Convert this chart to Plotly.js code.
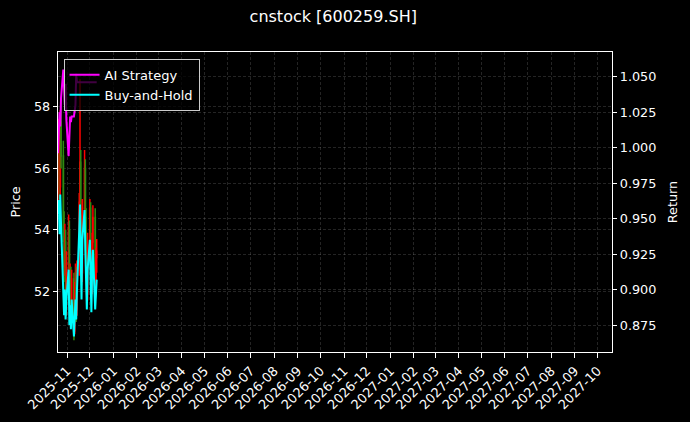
<!DOCTYPE html>
<html>
<head>
<meta charset="utf-8">
<script src="https://cdn.plot.ly/plotly-3.0.1.min.js"></script>
<style>
html, body { margin: 0; padding: 0; background: #000; }
#chart { width: 690px; height: 422px; }
</style>
</head>
<body>
<div id="chart"></div>
<script>
// daily bars
var dates = ['2025-10-20','2025-10-21','2025-10-22','2025-10-23','2025-10-24',
             '2025-10-27','2025-10-28','2025-10-29','2025-10-30','2025-10-31',
             '2025-11-03','2025-11-04','2025-11-05','2025-11-06','2025-11-07',
             '2025-11-10','2025-11-11','2025-11-12','2025-11-13','2025-11-14',
             '2025-11-17','2025-11-18','2025-11-19','2025-11-20','2025-11-21',
             '2025-11-24','2025-11-25','2025-11-26','2025-11-27','2025-11-28',
             '2025-12-01','2025-12-02','2025-12-03','2025-12-04','2025-12-05',
             '2025-12-08','2025-12-09','2025-12-10'];
var openP  = [55.2,56.3,57.0,55.4,57.5, 56.4,54.0,52.8,53.6,52.0, 52.9,54.0,51.8,52.5,51.2,
              52.4,50.7,51.9,52.6,51.4, 52.7,54.9,56.2,54.2,52.6, 54.7,56.0,54.4,53.0,51.9,
              53.5,54.7,53.0,52.1,53.6, 54.4,52.3,53.1];
var highP  = [56.8,57.6,57.4,57.9,58.3, 56.9,54.6,54.2,54.0,53.3, 54.5,54.3,52.9,52.8,52.7,
              52.6,52.3,52.9,52.8,53.0, 55.2,58.9,56.6,54.5,55.0, 56.6,56.3,54.7,53.4,53.9,
              55.0,54.9,53.3,53.9,54.8, 54.7,53.4,53.7];
var lowP   = [54.6,55.8,55.0,55.1,56.0, 53.6,52.3,52.5,51.6,51.2, 52.6,51.5,51.0,50.8,51.0,
              50.4,50.6,51.5,51.0,51.2, 52.5,54.6,53.8,52.2,52.3, 54.4,54.0,52.6,51.5,51.7,
              53.2,52.7,51.8,51.9,53.3, 52.0,52.1,52.6];
var closeP = [56.3,57.0,55.4,57.5,56.4, 54.0,52.8,53.6,52.0,52.9, 54.0,51.8,52.5,51.2,52.4,
              50.7,51.9,52.6,51.4,52.7, 54.9,56.2,54.2,52.6,54.7, 56.0,54.4,53.0,51.9,53.5,
              54.7,53.0,52.1,53.6,54.4, 52.3,53.1,53.3];

var aiReturn = [0.996,1.010,1.025,1.015,1.035, 1.055,1.040,1.030,1.045,1.020,
                0.994,1.020,1.022,1.018,1.022, 1.022,1.028,1.030,1.052,1.046,
                1.046,1.046,1.046,1.046,1.046, 1.046,1.046,1.046,1.046,1.046,
                1.046,1.046,1.046,1.046,1.046, 1.046,1.046,1.046];
var bhReturn = [0.953,0.963,0.939,0.967,0.946, 0.907,0.882,0.900,0.879,0.893,
                0.914,0.875,0.889,0.872,0.893, 0.867,0.886,0.893,0.879,0.900,
                0.942,0.960,0.921,0.893,0.935, 0.956,0.928,0.900,0.886,0.914,
                0.935,0.907,0.884,0.917,0.928, 0.886,0.903,0.907];

var font = 'DejaVu Sans, sans-serif';
var gridCol = 'rgba(255,255,255,0.28)';

var traces = [
  {
    type: 'candlestick', x: dates, open: openP, high: highP, low: lowP, close: closeP,
    xaxis: 'x', yaxis: 'y', showlegend: false, hoverinfo: 'skip',
    increasing: {line: {color: '#ff0000', width: 1.5}, fillcolor: '#ff0000'},
    decreasing: {line: {color: '#2f8a10', width: 1.5}, fillcolor: '#2f8a10'}
  },
  {
    type: 'scatter', mode: 'lines', x: dates, y: aiReturn, name: 'AI Strategy',
    xaxis: 'x', yaxis: 'y2', line: {color: '#ff00ff', width: 2}
  },
  {
    type: 'scatter', mode: 'lines', x: dates, y: bhReturn, name: 'Buy-and-Hold',
    xaxis: 'x', yaxis: 'y2', line: {color: '#00ffff', width: 2}
  }
];

var layout = {
  width: 690, height: 422,
  paper_bgcolor: '#000', plot_bgcolor: '#000',
  font: {family: font, color: '#fff', size: 12.8},
  margin: {l: 58, r: 78, t: 52, b: 70},
  title: {text: 'cnstock [600259.SH]', x: 0.483, xanchor: 'center', y: 0.96, yanchor: 'middle',
          font: {family: font, size: 16, color: '#fff'}},
  showlegend: true,
  legend: {x: 0.01, y: 0.977, xanchor: 'left', yanchor: 'top',
           bgcolor: 'rgba(0,0,0,0.75)', bordercolor: '#cccccc', borderwidth: 1,
           font: {family: font, size: 13, color: '#fff'}, tracegroupgap: 0},
  xaxis: {
    type: 'date', range: ['2025-10-20', '2027-10-20'],
    tick0: '2025-11-01', dtick: 'M1', tickformat: '%Y-%m', tickangle: -45,
    ticks: 'outside', ticklen: 5, tickcolor: '#fff',
    showline: true, linecolor: '#fff', linewidth: 1.2, mirror: true,
    showgrid: true, gridcolor: gridCol, griddash: '3px,2px', gridwidth: 0.5,
    rangeslider: {visible: false}, zeroline: false,
    tickfont: {family: font, size: 13, color: '#fff'}
  },
  yaxis: {
    range: [50.02, 59.79], dtick: 2, tick0: 0,
    ticks: 'outside', ticklen: 4, tickcolor: '#fff',
    showline: true, linecolor: '#fff', linewidth: 1.2,
    showgrid: true, gridcolor: gridCol, griddash: '3px,2px', gridwidth: 0.5, zeroline: false,
    title: {text: 'Price', standoff: 10, font: {family: font, size: 12.8, color: '#fff'}},
    tickfont: {family: font, size: 12.8, color: '#fff'}
  },
  yaxis2: {
    overlaying: 'y', side: 'right', range: [0.856, 1.0674], dtick: 0.025, tick0: 0,
    tickformat: '.3f',
    ticks: 'outside', ticklen: 4, tickcolor: '#fff',
    showline: true, linecolor: '#fff', linewidth: 1.2,
    showgrid: true, gridcolor: gridCol, griddash: '3px,2px', gridwidth: 0.5, zeroline: false,
    title: {text: 'Return', standoff: 12, font: {family: font, size: 12.8, color: '#fff'}},
    tickfont: {family: font, size: 12.8, color: '#fff'}
  }
};

Plotly.newPlot('chart', traces, layout, {displayModeBar: false, staticPlot: true});
</script>
</body>
</html>
